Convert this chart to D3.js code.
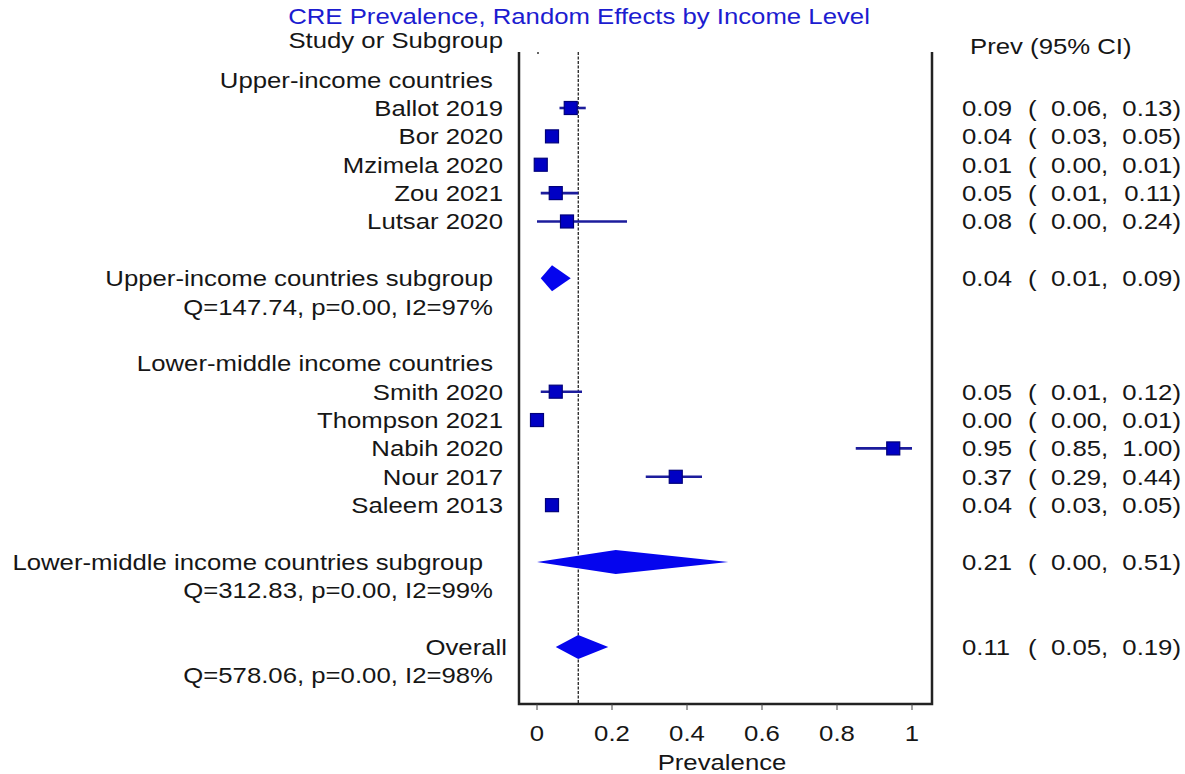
<!DOCTYPE html>
<html>
<head>
<meta charset="utf-8">
<script src="https://cdn.jsdelivr.net/npm/d3@7"></script>
<style>
  html, body { margin: 0; padding: 0; background: #fff; }
  svg { display: block; font-family: "Liberation Sans", Arial, sans-serif; }
</style>
</head>
<body>
<svg id="chart" width="1185" height="774"></svg>
<script>
// data
const groups = ["Upper-income countries", "Lower-middle income countries"];
const studies = ["Ballot 2019", "Bor 2020", "Mzimela 2020", "Zou 2021", "Lutsar 2020",
                 "Smith 2020", "Thompson 2021", "Nabih 2020", "Nour 2017", "Saleem 2013"];
const studyGroup = [0, 0, 0, 0, 0, 1, 1, 1, 1, 1];
const prev = [0.09, 0.04, 0.01, 0.05, 0.08, 0.05, 0.00, 0.95, 0.37, 0.04];
const lo   = [0.06, 0.03, 0.00, 0.01, 0.00, 0.01, 0.00, 0.85, 0.29, 0.03];
const hi   = [0.13, 0.05, 0.01, 0.11, 0.24, 0.12, 0.01, 1.00, 0.44, 0.05];

const pooledLabels = ["Upper-income countries subgroup", "Lower-middle income countries subgroup", "Overall"];
const pooledStats = ["Q=147.74, p=0.00, I2=97%", "Q=312.83, p=0.00, I2=99%", "Q=578.06, p=0.00, I2=98%"];
const pooledPrev = [0.04, 0.21, 0.11];
const pooledLo   = [0.01, 0.00, 0.05];
const pooledHi   = [0.09, 0.51, 0.19];

const xTicks = [0, 0.2, 0.4, 0.6, 0.8, 1];

const svg = d3.select('#chart');
const SX = 1.17;          // the source text is stretched horizontally
const FS = 22;
const textCol = '#161616';

const x = d3.scaleLinear().domain([0, 1]).range([537, 912]);
const y = d3.scaleLinear().domain([3, 22]).range([108, 647]);

function label(txt, px, py, anchor, color) {
    return svg.append('text')
        .attr('transform', `translate(${px},${py}) scale(${SX},1)`)
        .attr('text-anchor', anchor || 'end')
        .attr('dy', '0.36em')
        .style('font-size', FS + 'px')
        .style('fill', color || textCol)
        .text(txt);
}

const fmt = d3.format('.2f');
function ciText(row, p, l, h) {
    const py = y(row);
    label(fmt(p), 962, py, 'start');
    label('(', 1028, py, 'start');
    label(fmt(l) + ',', 1051, py, 'start');
    label(fmt(h) + ')', 1181, py, 'end');
}

// build rows: heading, studies, blank, subgroup, stats, blank
const rows = [];
let r = 2;
groups.forEach((gname, gi) => {
    rows.push({ kind: 'heading', text: gname, row: r++ });
    studies.forEach((s, i) => {
        if (studyGroup[i] === gi) rows.push({ kind: 'study', i: i, row: r++ });
    });
    r++;
    rows.push({ kind: 'pooled', i: gi, row: r++ });
    rows.push({ kind: 'stats', i: gi, row: r++ });
    r++;
});
rows.push({ kind: 'pooled', i: 2, row: r++ });
rows.push({ kind: 'stats', i: 2, row: r++ });

// title and headers
label('CRE Prevalence, Random Effects by Income Level', 579, 16, 'middle', '#1c1cd0');
label('Study or Subgroup', 503, 40, 'end');
label('Prev (95% CI)', 970, 46, 'start');

// frame
const frameTop = 52, frameBottom = 704, frameLeft = 519, frameRight = 932;
svg.append('path')
    .attr('d', `M${frameLeft},${frameTop}V${frameBottom}H${frameRight}V${frameTop}`)
    .style('fill', 'none')
    .style('stroke', '#222')
    .style('stroke-width', 2.5);

// overall reference line
svg.append('line')
    .attr('x1', x(pooledPrev[2])).attr('x2', x(pooledPrev[2]))
    .attr('y1', frameTop).attr('y2', frameBottom)
    .style('stroke', '#111')
    .style('stroke-width', 1.2)
    .style('stroke-dasharray', '3,1.5');

svg.append('circle').attr('cx', x(0) + 1).attr('cy', frameTop + 1).attr('r', 1).style('fill', '#333');

// axis
const axis = svg.append('g');
axis.selectAll('line.tick')
    .data(xTicks).enter()
    .append('line')
    .attr('x1', d => x(d)).attr('x2', d => x(d))
    .attr('y1', frameBottom).attr('y2', frameBottom + 6)
    .style('stroke', '#444').style('stroke-width', 1);
xTicks.forEach(t => label(String(t), x(t), 733, 'middle'));
label('Prevalence', 722, 762, 'middle');

// rows
rows.forEach(d => {
    const py = y(d.row);
    if (d.kind === 'heading') {
        label(d.text, 493, py, 'end');
    } else if (d.kind === 'study') {
        const i = d.i;
        label(studies[i], 503, py, 'end');
        svg.append('line')
            .attr('x1', x(lo[i])).attr('x2', x(hi[i]))
            .attr('y1', py).attr('y2', py)
            .style('stroke', '#1c1c9c').style('stroke-width', 2.6);
        svg.append('rect')
            .attr('x', x(prev[i]) - 6.5).attr('y', py - 6.5)
            .attr('width', 13).attr('height', 13)
            .style('fill', '#0000c4').style('stroke', '#00007a').style('stroke-width', 1.2);
        ciText(d.row, prev[i], lo[i], hi[i]);
    } else if (d.kind === 'pooled') {
        const i = d.i;
        const lx = i === 1 ? 483 : (i === 2 ? 507 : 493);
        label(pooledLabels[i], lx, py, 'end');
        const h = i === 0 ? 13 : 12;
        svg.append('path')
            .attr('d', `M${x(pooledLo[i])},${py}L${x(pooledPrev[i])},${py - h}L${x(pooledHi[i])},${py}L${x(pooledPrev[i])},${py + h}Z`)
            .style('fill', '#0505ee');
        ciText(d.row, pooledPrev[i], pooledLo[i], pooledHi[i]);
    } else if (d.kind === 'stats') {
        label(pooledStats[d.i], 493, py, 'end');
    }
});
</script>
</body>
</html>
